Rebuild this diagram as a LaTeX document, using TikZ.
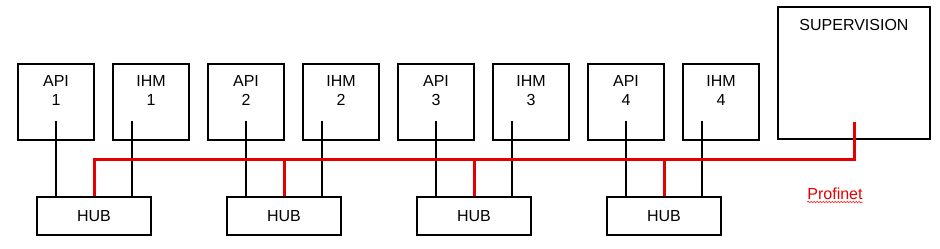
\documentclass[tikz,border=0pt]{standalone}
\usepackage{fontspec}
\setmainfont{Liberation Sans}
\usetikzlibrary{calc,decorations.pathmorphing}
\definecolor{busred}{RGB}{228,0,0}
\begin{document}
\begin{tikzpicture}[x=1pt,y=-1pt,
  box/.style={draw=black,line width=2pt,minimum width=76pt,minimum height=76pt,inner sep=0pt},
  hubbox/.style={draw=black,line width=2pt,minimum width=114pt,minimum height=38pt,inner sep=0pt,font=\fontsize{16}{19}\selectfont},
  lab/.style={align=center,font=\fontsize{16}{19.4}\selectfont,inner sep=0pt},
  wire/.style={draw=black,line width=2pt},
  bus/.style={draw=busred,line width=3pt}]
\useasboundingbox (0,0) rectangle (940,249);
% boxes
\foreach \i/\x in {1/56,2/246,3/436,4/626}{
  \node[box] (api\i) at (\x,102) {};
  \node[lab,anchor=north] (apit\i) at ($(api\i.north)+(0,12)$) {API\\\i};
  \node[box] (ihm\i) at ($(api\i)+(95,0)$) {};
  \node[lab,anchor=north] (ihmt\i) at ($(ihm\i.north)+(0,12)$) {IHM\\\i};
  \node[hubbox] (hub\i) at ($(api\i)+(38,114)$) {HUB};
  \coordinate (ta\i) at ($(api\i.center)+(0,19)$);
  \coordinate (hi\i) at ($(hub\i.north)+(38,0)$);
  \draw[wire] (ta\i) -- (ta\i |- hub\i.north);
  \draw[wire] (hi\i) -- (hi\i |- ta\i);
}
\node[box,minimum width=152pt,minimum height=132pt] (sup) at (854,73) {};
\node[lab,anchor=north] (supt) at ($(sup.north)+(0,13)$) {SUPERVISION};
\coordinate (supin) at ($(sup.south)+(0,-18)$);
\coordinate (busy) at (0,159);
% red bus
\draw[bus] (hub1.north) |- (supin |- busy) -- (supin);
\foreach \i in {2,3,4}{
  \draw[bus] (hub\i.north) -- (hub\i.north |- busy);
}
\node[font=\fontsize{16}{19}\selectfont,text=busred,inner sep=0pt] (prof) at (835,194) {Profinet};
\draw[busred!85,line width=0.6pt,decorate,decoration={snake,segment length=3pt,amplitude=0.8pt}]
  ($(prof.south west)+(0,2)$) -- ($(prof.south east)+(0,2)$);
\end{tikzpicture}
\end{document}
